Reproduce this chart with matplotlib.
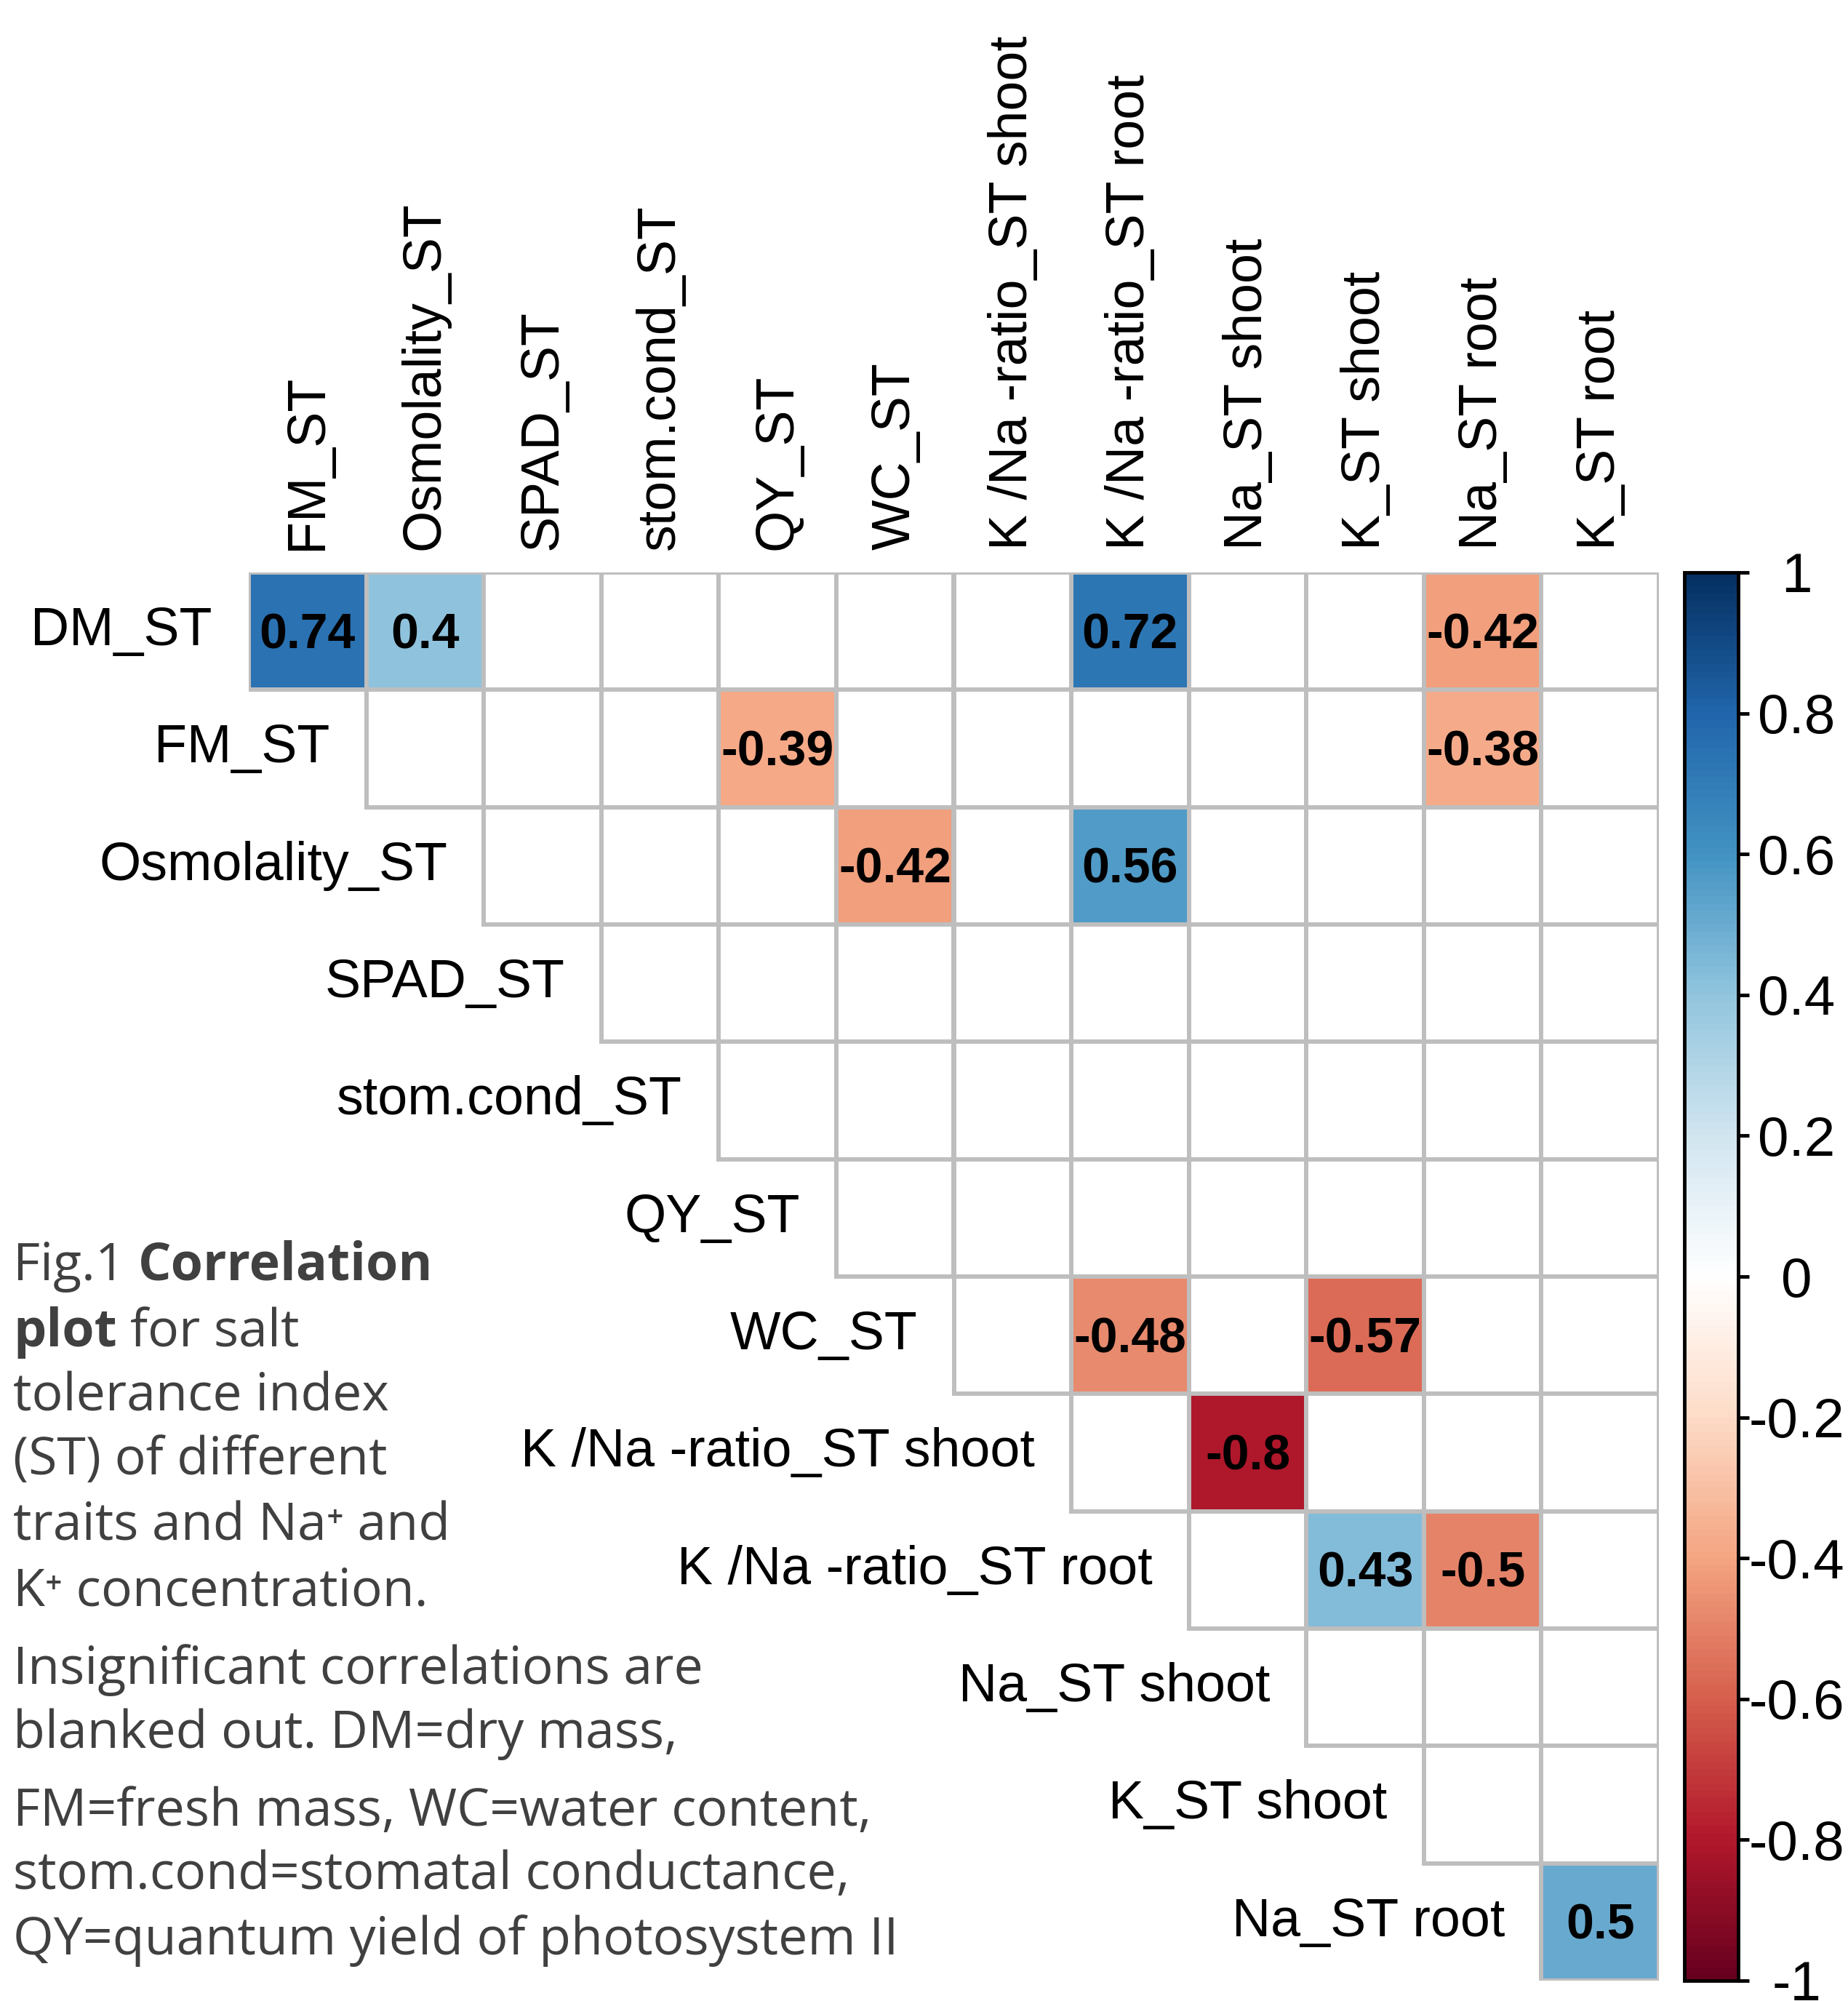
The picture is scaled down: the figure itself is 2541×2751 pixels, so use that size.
import matplotlib.pyplot as plt
import matplotlib.colors as mcolors
import matplotlib.patches as mpatches
import matplotlib.cm as cm
import numpy as np

# ---- data ----
row_labels = ['DM_ST', 'FM_ST', 'Osmolality_ST', 'SPAD_ST', 'stom.cond_ST', 'QY_ST', 'WC_ST',
              'K /Na -ratio_ST shoot', 'K /Na -ratio_ST root', 'Na_ST shoot', 'K_ST shoot',
              'Na_ST root']
col_labels = ['FM_ST', 'Osmolality_ST', 'SPAD_ST', 'stom.cond_ST', 'QY_ST', 'WC_ST',
              'K /Na -ratio_ST shoot', 'K /Na -ratio_ST root', 'Na_ST shoot', 'K_ST shoot',
              'Na_ST root', 'K_ST root']

# significant correlations only (everything else blanked out)
sig_rows = ['DM_ST', 'DM_ST', 'DM_ST', 'DM_ST', 'FM_ST', 'FM_ST', 'Osmolality_ST',
            'Osmolality_ST', 'WC_ST', 'WC_ST', 'K /Na -ratio_ST shoot',
            'K /Na -ratio_ST root', 'K /Na -ratio_ST root', 'Na_ST root']
sig_cols = ['FM_ST', 'Osmolality_ST', 'K /Na -ratio_ST root', 'Na_ST root', 'QY_ST',
            'Na_ST root', 'WC_ST', 'K /Na -ratio_ST root', 'K /Na -ratio_ST root',
            'K_ST shoot', 'Na_ST shoot', 'K_ST shoot', 'Na_ST root', 'K_ST root']
sig_r = [0.74, 0.4, 0.72, -0.42, -0.39, -0.38, -0.42, 0.56, -0.48, -0.57, -0.8, 0.43, -0.5, 0.5]

cbar_ticks = [-1, -0.8, -0.6, -0.4, -0.2, 0, 0.2, 0.4, 0.6, 0.8, 1]
cbar_ticklabels = ['-1', '-0.8', '-0.6', '-0.4', '-0.2', '0', '0.2', '0.4', '0.6', '0.8', '1']

caption_lines = [
    [('Fig.1', 'normal'), ('Correlation', 'bold')],
    [('plot', 'bold'), ('for salt', 'normal')],
    [('tolerance index', 'normal')],
    [('(ST) of different', 'normal')],
    [('traits and Na\u207a and', 'normal')],
    [('K\u207a concentration.', 'normal')],
    [('Insignificant correlations are', 'normal')],
    [('blanked out. DM=dry mass,', 'normal')],
    [('FM=fresh mass, WC=water content,', 'normal')],
    [('stom.cond=stomatal conductance,', 'normal')],
    [('QY=quantum yield of photosystem II', 'normal')],
]
caption_baselines = [1760, 1851, 1939, 2027, 2118, 2208, 2315, 2403, 2510, 2597, 2687]  # px from top

# corrplot RdBu palette
rdbu = ['#67001F', '#B2182B', '#D6604D', '#F4A582', '#FDDBC7', '#FFFFFF',
        '#D1E5F0', '#92C5DE', '#4393C3', '#2166AC', '#053061']
cmap = mcolors.LinearSegmentedColormap.from_list('corr_rdbu', rdbu, N=200)
norm = mcolors.Normalize(vmin=-1, vmax=1)

n = len(row_labels)
mat = np.full((n, n), np.nan)
for r, c, v in zip(sig_rows, sig_cols, sig_r):
    mat[row_labels.index(r), col_labels.index(c)] = v

# ---- figure ----
W, H = 2541, 2751
fig = plt.figure(figsize=(W / 100, H / 100), dpi=100, facecolor='white')

gx0, gy0, gx1, gy1 = 342, 787, 2281, 2723
ax = fig.add_axes([gx0 / W, 1 - gy1 / H, (gx1 - gx0) / W, (gy1 - gy0) / H])
ax.set_xlim(0, n)
ax.set_ylim(n, 0)
ax.axis('off')

lab_font = 'Liberation Sans'
grid_col = '#BEBEBE'

for i in range(n):
    for j in range(i, n):
        v = mat[i, j]
        fc = 'white' if np.isnan(v) else cmap(norm(v))
        ax.add_patch(mpatches.Rectangle((j, i), 1, 1, facecolor=fc, edgecolor=grid_col,
                                        linewidth=4.3, zorder=1))
        if not np.isnan(v):
            ax.text(j + 0.5, i + 0.645, f'{v:g}', ha='center', va='baseline',
                    fontsize=49, fontweight='bold', family=lab_font, zorder=3)

for i, lab in enumerate(row_labels):
    ax.text(i - 0.31, i + 0.62, lab, ha='right', va='baseline', fontsize=53, family=lab_font)

for j, lab in enumerate(col_labels):
    ax.text(j + 0.5, -0.19, lab, ha='left', va='center', rotation=90, rotation_mode='anchor',
            fontsize=53, family=lab_font)

# colour legend
cx0, cx1 = 2316, 2390
cax = fig.add_axes([cx0 / W, 1 - gy1 / H, (cx1 - cx0) / W, (gy1 - gy0) / H])
cb = fig.colorbar(cm.ScalarMappable(norm=norm, cmap=cmap), cax=cax, ticks=cbar_ticks)
cb.ax.set_yticklabels(cbar_ticklabels)
cb.outline.set_linewidth(3.5)
cax.tick_params(length=11, width=3.5, labelsize=55, pad=47)
for t in cax.get_yticklabels():
    t.set_ha('center')
    t.set_family(lab_font)

# caption, gray text on the left
cap_font = ['Open Sans', 'Noto Sans', 'DejaVu Sans']
cap_col = '#404040'
renderer = fig.canvas.get_renderer()


def text_w(s, size, weight):
    t = fig.text(0, 0, s, fontsize=size, fontweight=weight, family=cap_font)
    w = t.get_window_extent(renderer).width
    t.remove()
    return w


cap_size = 20 * 1215 / text_w(caption_lines[-1][0][0], 20, 'normal')
space_w = text_w('a a', cap_size, 'normal') - text_w('aa', cap_size, 'normal')

for runs, yb in zip(caption_lines, caption_baselines):
    x = 18
    for s, wgt in runs:
        t = fig.text(x / W, 1 - yb / H, s, fontsize=cap_size, fontweight=wgt,
                     family=cap_font, color=cap_col, va='baseline', ha='left')
        x += t.get_window_extent(renderer).width + space_w

fig.savefig('out.png', dpi=100, facecolor='white')
